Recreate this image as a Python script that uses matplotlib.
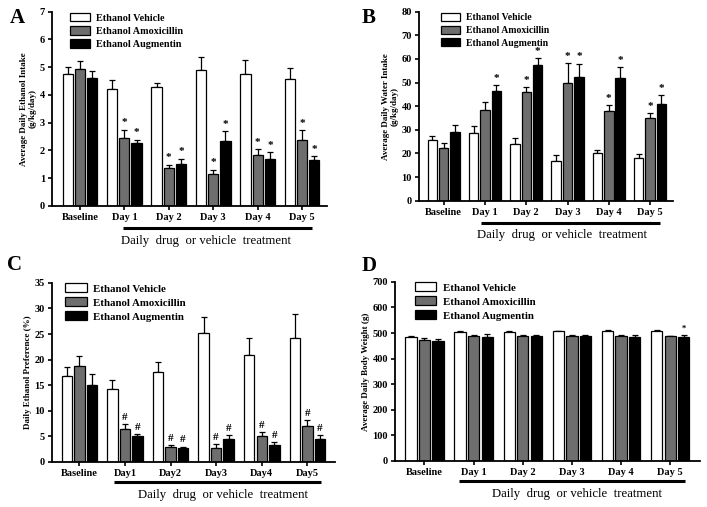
import numpy as np
import matplotlib
matplotlib.use("Agg")
import matplotlib.pyplot as plt
from matplotlib.patches import Patch
import matplotlib.transforms as mtransforms

plt.rcParams['font.family'] = ['Liberation Serif', 'DejaVu Serif']

# data (mean, upper SEM)
groups_sp = ["Baseline", "Day 1", "Day 2", "Day 3", "Day 4", "Day 5"]
groups_ns = ["Baseline", "Day1", "Day2", "Day3", "Day4", "Day5"]
series = ["Ethanol Vehicle", "Ethanol Amoxicillin", "Ethanol Augmentin"]

a_veh = [4.75, 4.2, 4.28, 4.9, 4.75, 4.57]
a_veh_err = [0.25, 0.35, 0.14, 0.48, 0.5, 0.41]
a_amx = [4.95, 2.45, 1.35, 1.15, 1.82, 2.37]
a_amx_err = [0.27, 0.3, 0.13, 0.15, 0.23, 0.35]
a_aug = [4.6, 2.25, 1.5, 2.35, 1.68, 1.65]
a_aug_err = [0.27, 0.13, 0.2, 0.35, 0.25, 0.15]
a_sig = [(1, 1), (1, 2), (2, 1), (2, 2), (3, 1), (3, 2), (4, 1), (4, 2), (5, 1), (5, 2)]

b_veh = [25.5, 28.8, 24, 17, 20, 18]
b_veh_err = [2, 3, 2.5, 2.3, 1.5, 1.8]
b_amx = [22.5, 38.5, 46, 50, 38, 35]
b_amx_err = [1.8, 3.3, 2, 8.2, 2.5, 2]
b_aug = [29, 46.5, 57.5, 52.5, 52, 41]
b_aug_err = [3, 2.5, 2.8, 5.5, 4.5, 3.8]
b_sig = [(1, 2), (2, 1), (2, 2), (3, 1), (3, 2), (4, 1), (4, 2), (5, 1), (5, 2)]

c_veh = [16.8, 14.2, 17.5, 25.2, 20.9, 24.3]
c_veh_err = [1.8, 1.9, 2.1, 3.2, 3.4, 4.7]
c_amx = [18.8, 6.5, 3.0, 2.8, 5.0, 7.0]
c_amx_err = [2.0, 0.9, 0.3, 0.7, 0.8, 1.2]
c_aug = [15.1, 5.0, 2.7, 4.5, 3.3, 4.4]
c_aug_err = [2.0, 0.5, 0.3, 0.8, 0.5, 0.8]
c_sig = [(1, 1), (1, 2), (2, 1), (2, 2), (3, 1), (3, 2), (4, 1), (4, 2), (5, 1), (5, 2)]

d_veh = [485, 503, 503, 506, 507, 508]
d_veh_err = [3, 5, 4, 2, 4, 2]
d_amx = [473, 490, 490, 488, 487, 487]
d_amx_err = [7, 4, 4, 5, 4, 3]
d_aug = [470, 485, 487, 488, 485, 485]
d_aug_err = [8, 11, 7, 6, 7, 9]
d_sig = [(5, 2)]

colors = ["white", "#6e6e6e", "black"]


def panel(rect, letter, letter_pos, means, errs, sig, mark, labels, ymax, ystep,
          ylabel, xlim, line_span, leg_anchor, text_x, text_ha,
          leg_size=7.3, sig_size=8):
    ax = fig.add_axes(rect)
    x = np.arange(len(labels))
    w = 0.23
    off = [-0.275, 0, 0.275]
    for k in range(3):
        ax.bar(x + off[k], means[k], w, color=colors[k], edgecolor="black",
               linewidth=0.9, zorder=2)
        ax.errorbar(x + off[k], means[k], yerr=[np.zeros(len(x)), errs[k]],
                    fmt="none", ecolor="black", elinewidth=0.9, capsize=2.2,
                    capthick=0.9, zorder=1)
    for g, k in sig:
        top = means[k][g] + errs[k][g]
        ax.text(x[g] + off[k], top + ymax * 0.012, mark, ha="center",
                va="bottom", fontsize=sig_size, fontweight="bold")
    ax.set_xlim(*xlim)
    ax.set_ylim(0, ymax)
    ax.set_yticks(np.arange(0, ymax + ystep / 2, ystep))
    ax.set_xticks(x)
    ax.set_xticklabels(labels, fontsize=7.5, fontweight="bold")
    for t in ax.get_yticklabels():
        t.set_fontsize(7.5)
        t.set_fontweight("bold")
    ax.tick_params(axis="both", direction="out", length=3, width=1.2, pad=2)
    ax.spines["top"].set_visible(False)
    ax.spines["right"].set_visible(False)
    ax.spines["left"].set_linewidth(1.3)
    ax.spines["bottom"].set_linewidth(1.3)
    ax.set_ylabel(ylabel, fontsize=6.5, fontweight="bold", labelpad=2)
    handles = [Patch(facecolor=colors[k], edgecolor="black", linewidth=0.9,
                     label=series[k]) for k in range(3)]
    ax.legend(handles=handles, loc="upper left", bbox_to_anchor=leg_anchor,
              frameon=False, prop={"size": leg_size, "weight": "bold"},
              handlelength=2.0, handleheight=0.9, labelspacing=0.35,
              handletextpad=0.6, borderpad=0.2)
    trans = mtransforms.blended_transform_factory(ax.transData, ax.transAxes)
    ax.plot(line_span, [-0.115, -0.115], color="black", lw=2.2,
            transform=trans, clip_on=False, solid_capstyle="butt")
    ax.text(text_x, -0.15, "Daily  drug  or vehicle  treatment",
            transform=trans, ha=text_ha, va="top", fontsize=9.2)
    fig.text(letter_pos[0], letter_pos[1], letter, fontsize=15,
             fontweight="bold", ha="left", va="center")
    return ax


fig = plt.figure(figsize=(7.07, 5.07), dpi=100)

panel([0.0735, 0.594, 0.389, 0.383], "A", (0.014, 0.965),
      [a_veh, a_amx, a_aug], [a_veh_err, a_amx_err, a_aug_err], a_sig, "*",
      groups_sp, 7, 1, "Average Daily Ethanol Intake\n(g/kg/day)",
      (-0.63, 5.56), (0.96, 5.22), (0.04, 1.03), 0.92, "left")

panel([0.5926, 0.604, 0.359, 0.373], "B", (0.512, 0.965),
      [b_veh, b_amx, b_aug], [b_veh_err, b_amx_err, b_aug_err], b_sig, "*",
      groups_sp, 80, 10, "Average Daily Water Intake\n(g/kg/day)",
      (-0.6, 5.55), (0.9, 5.25), (0.06, 1.03), 0.8, "left", leg_size=7.0)

panel([0.0735, 0.089, 0.400, 0.353], "C", (0.01, 0.477),
      [c_veh, c_amx, c_aug], [c_veh_err, c_amx_err, c_aug_err], c_sig, "#",
      groups_ns, 35, 5, "Daily Ethanol Preference (%)",
      (-0.6, 5.6), (0.75, 5.3), (0.02, 1.04), 3.15, "center", leg_size=7.8)

panel([0.5587, 0.091, 0.431, 0.353], "D", (0.512, 0.476),
      [d_veh, d_amx, d_aug], [d_veh_err, d_amx_err, d_aug_err], d_sig, "*",
      groups_sp, 700, 100, "Average Daily Body Weight (g)",
      (-0.6, 5.6), (0.7, 5.3), (0.04, 1.04), 3.1, "center", leg_size=7.8,
      sig_size=6)

fig.savefig("out.png", dpi=100)
